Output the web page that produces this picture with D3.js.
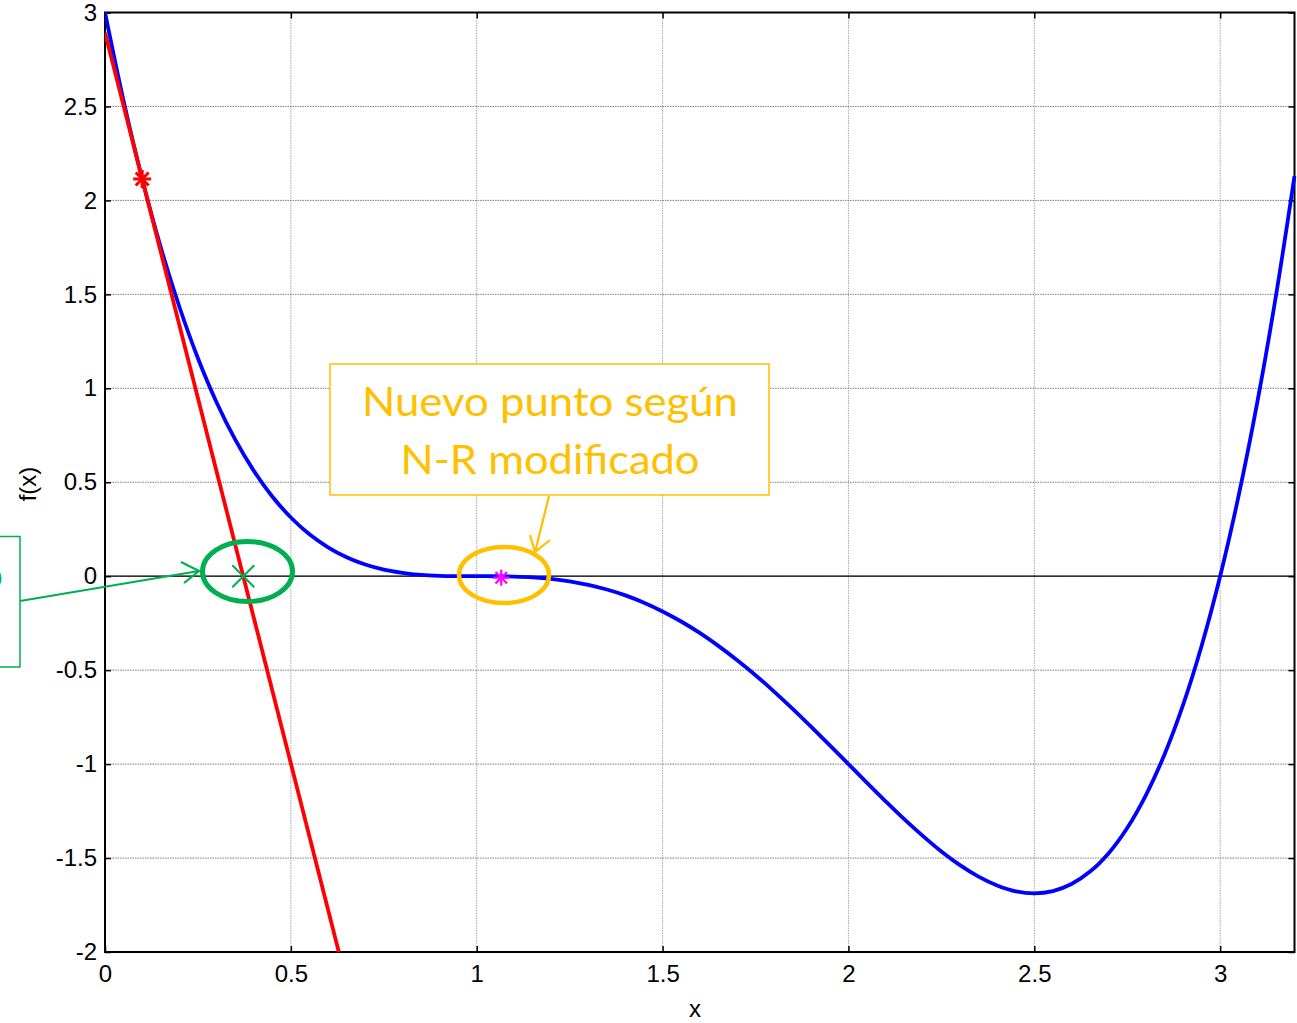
<!DOCTYPE html>
<html>
<head>
<meta charset="utf-8">
<script src="https://cdn.jsdelivr.net/npm/d3@7"></script>
<style>
  html, body { margin: 0; padding: 0; background: #fff; overflow: hidden; }
  svg { display: block; }
</style>
</head>
<body>
<svg id="chart" width="1297" height="1023"></svg>
<script>
// ---- data ----
const curveX = [0, 0.05, 0.1, 0.15, 0.2, 0.25, 0.3, 0.35, 0.4, 0.45, 0.5, 0.55, 0.6, 0.65, 0.7, 0.75, 0.8, 0.85, 0.9, 0.95,
                1.0, 1.05, 1.1, 1.15, 1.2, 1.25, 1.3, 1.35, 1.4, 1.45, 1.5, 1.55, 1.6, 1.65, 1.7, 1.75, 1.8, 1.85, 1.9, 1.95,
                2.0, 2.05, 2.1, 2.15, 2.2, 2.25, 2.3, 2.35, 2.4, 2.45, 2.5, 2.55, 2.6, 2.65, 2.7, 2.75, 2.8, 2.85, 2.9, 2.95,
                3.0, 3.05, 3.1, 3.15, 3.2];
const curveY = [3.0, 2.529, 2.114, 1.750, 1.434, 1.160, 0.926, 0.728, 0.562, 0.424, 0.3125, 0.223, 0.154, 0.101, 0.062, 0.035, 0.018, 0.007, 0.002, 0.0003,
                0.0, -0.0002, -0.002, -0.006, -0.014, -0.027, -0.046, -0.071, -0.102, -0.141, -0.1875, -0.241, -0.302, -0.371, -0.446, -0.527, -0.614, -0.706, -0.802, -0.900,
                -1.0, -1.100, -1.198, -1.293, -1.382, -1.465, -1.538, -1.599, -1.646, -1.677, -1.6875, -1.676, -1.638, -1.572, -1.474, -1.340, -1.166, -0.950, -0.686, -0.371,
                0.0, 0.431, 0.926, 1.491, 2.130];
const tangentX = [0, 0.629];
const tangentY = [2.892, -2.0];
const startPoint = [0.1, 2.114];
const crossPoint = [0.372, 0.0];
const newPoint = [1.066, -0.008];
const xTicks = [0, 0.5, 1, 1.5, 2, 2.5, 3];
const yTicks = [-2, -1.5, -1, -0.5, 0, 0.5, 1, 1.5, 2, 2.5, 3];
const xTickLabels = ["0", "0.5", "1", "1.5", "2", "2.5", "3"];
const yTickLabels = ["-2", "-1.5", "-1", "-0.5", "0", "0.5", "1", "1.5", "2", "2.5", "3"];
const xDomain = [0, 3.2];
const yDomain = [-2, 3];
const noteLines = ["Nuevo punto según", "N-R modificado"];
const leftNote = "N-R clásico";

// ---- layout ----
const svg = d3.select("#chart");
const L = 105, R = 1294.5, T = 12.5, B = 952;
const x = d3.scaleLinear().domain(xDomain).range([L, R]);
const y = d3.scaleLinear().domain(yDomain).range([B, T]);
const font = "Liberation Sans, Arimo, Arial, Helvetica, sans-serif";
const noteFont = "Lato, 'Open Sans', sans-serif";
const orange = "#FFC000";
const green = "#00B050";

// grid
const grid = svg.append("g");
grid.selectAll("line.vg").data(xTicks).join("line")
  .attr("x1", d => x(d)).attr("x2", d => x(d)).attr("y1", T).attr("y2", B)
  .attr("stroke", "#a8a8a8").attr("stroke-width", 1).attr("stroke-dasharray", "1.5,1");
grid.selectAll("line.hg").data(yTicks).join("line")
  .attr("x1", L).attr("x2", R).attr("y1", d => y(d)).attr("y2", d => y(d))
  .attr("stroke", "#808080").attr("stroke-width", 1).attr("stroke-dasharray", "1.5,1");

// zero line
svg.append("line").attr("x1", L).attr("x2", R).attr("y1", y(0)).attr("y2", y(0))
  .attr("stroke", "#000").attr("stroke-width", 1.2);

// axes with inward ticks (MATLAB style)
const xAxis = d3.axisBottom(x).tickValues(xTicks).tickSize(-6).tickFormat((d, i) => xTickLabels[i]);
const yAxis = d3.axisLeft(y).tickValues(yTicks).tickSize(-6).tickFormat((d, i) => yTickLabels[i]);
const gx = svg.append("g").attr("transform", `translate(0,${B})`).call(xAxis);
const gy = svg.append("g").attr("transform", `translate(${L},0)`).call(yAxis);
const gxTop = svg.append("g").attr("transform", `translate(0,${T})`).call(d3.axisTop(x).tickValues(xTicks).tickSize(-6).tickFormat(""));
const gyRight = svg.append("g").attr("transform", `translate(${R},0)`).call(d3.axisRight(y).tickValues(yTicks).tickSize(-6).tickFormat(""));
[gx, gy, gxTop, gyRight].forEach(g => {
  g.attr("font-family", font);
  g.select(".domain").remove();
  g.selectAll(".tick line").attr("stroke", "#000").attr("stroke-width", 1.5);
  g.selectAll(".tick text").attr("font-family", font).attr("font-size", 24).attr("fill", "#000");
});
gx.selectAll(".tick text").attr("dy", "0.71em").attr("y", 13);
gy.selectAll(".tick text").attr("x", -8);

// box
svg.append("rect").attr("x", L).attr("y", T).attr("width", R - L).attr("height", B - T)
  .attr("fill", "none").attr("stroke", "#000").attr("stroke-width", 2);

// axis labels
svg.append("text").attr("x", 695).attr("y", 1017).attr("text-anchor", "middle")
  .attr("font-family", font).attr("font-size", 24).text("x");
svg.append("text").attr("transform", "translate(36,484) rotate(-90)").attr("text-anchor", "middle")
  .attr("font-family", font).attr("font-size", 24).text("f(x)");

// clip
svg.append("clipPath").attr("id", "plotclip").append("rect")
  .attr("x", L).attr("y", T - 2).attr("width", R - L + 2).attr("height", B - T + 2);

const plot = svg.append("g").attr("clip-path", "url(#plotclip)");

// blue curve
const pts = curveX.map((d, i) => [d, curveY[i]]);
plot.append("path").datum(pts)
  .attr("d", d3.line().x(d => x(d[0])).y(d => y(d[1])).curve(d3.curveCatmullRom))
  .attr("fill", "none").attr("stroke", "#0000FF").attr("stroke-width", 3.8);

// red tangent
const tpts = tangentX.map((d, i) => [d, tangentY[i]]);
plot.append("path").datum(tpts)
  .attr("d", d3.line().x(d => x(d[0])).y(d => y(d[1])))
  .attr("fill", "none").attr("stroke", "#FF0000").attr("stroke-width", 3.8);

// asterisk marker helper
function asterisk(cx, cy, r, color, w) {
  const g = svg.append("g").attr("stroke", color).attr("stroke-width", w);
  const d = r * 0.72;
  g.append("line").attr("x1", cx - r).attr("x2", cx + r).attr("y1", cy).attr("y2", cy);
  g.append("line").attr("x1", cx).attr("x2", cx).attr("y1", cy - r).attr("y2", cy + r);
  g.append("line").attr("x1", cx - d).attr("x2", cx + d).attr("y1", cy - d).attr("y2", cy + d);
  g.append("line").attr("x1", cx - d).attr("x2", cx + d).attr("y1", cy + d).attr("y2", cy - d);
}
asterisk(x(startPoint[0]), y(startPoint[1]), 9, "#FF0000", 3);
asterisk(x(newPoint[0]), y(newPoint[1]), 8, "#FF00FF", 2.2);

// green x marker
{
  const cx = x(crossPoint[0]), cy = y(crossPoint[1]), r = 11;
  const g = svg.append("g").attr("stroke", green).attr("stroke-width", 2);
  g.append("line").attr("x1", cx - r).attr("x2", cx + r).attr("y1", cy - r).attr("y2", cy + r);
  g.append("line").attr("x1", cx - r).attr("x2", cx + r).attr("y1", cy + r).attr("y2", cy - r);
}

// green ellipse
svg.append("ellipse").attr("cx", 247.5).attr("cy", 571.5).attr("rx", 45).attr("ry", 30)
  .attr("fill", "none").attr("stroke", green).attr("stroke-width", 5);

// green callout box (cut off at the left edge, as in the original)
svg.append("rect").attr("x", -400).attr("y", 536.5).attr("width", 420).attr("height", 130.5)
  .attr("fill", "#fff").attr("stroke", green).attr("stroke-width", 1.5);
svg.append("text").attr("x", 3).attr("y", 589).attr("text-anchor", "end")
  .attr("font-family", noteFont).attr("font-size", 40).attr("fill", green).text(leftNote);

// green arrow
svg.append("line").attr("x1", 20).attr("y1", 601).attr("x2", 199).attr("y2", 571)
  .attr("stroke", green).attr("stroke-width", 2.2);
svg.append("path").attr("d", "M181,562 L199,571 L184,583")
  .attr("fill", "none").attr("stroke", green).attr("stroke-width", 2.2);

// orange ellipse
svg.append("ellipse").attr("cx", 504).attr("cy", 575).attr("rx", 45).attr("ry", 28)
  .attr("fill", "none").attr("stroke", orange).attr("stroke-width", 4.5);

// orange callout box
svg.append("rect").attr("x", 330).attr("y", 364).attr("width", 439).attr("height", 131)
  .attr("fill", "#fff").attr("stroke", orange).attr("stroke-width", 1.5);
const noteWidths = [376, 299];
svg.selectAll("text.note").data(noteLines).join("text")
  .attr("class", "note")
  .attr("x", 550).attr("y", (d, i) => 416 + i * 58)
  .attr("text-anchor", "middle")
  .attr("font-family", noteFont).attr("font-size", 41)
  .attr("textLength", (d, i) => noteWidths[i]).attr("lengthAdjust", "spacingAndGlyphs")
  .attr("fill", orange).text(d => d);

// orange arrow
svg.append("line").attr("x1", 549).attr("y1", 496).attr("x2", 535).attr("y2", 552)
  .attr("stroke", orange).attr("stroke-width", 2.2);
svg.append("path").attr("d", "M530,535 L535,552 L550,540")
  .attr("fill", "none").attr("stroke", orange).attr("stroke-width", 2.2);
</script>
</body>
</html>
